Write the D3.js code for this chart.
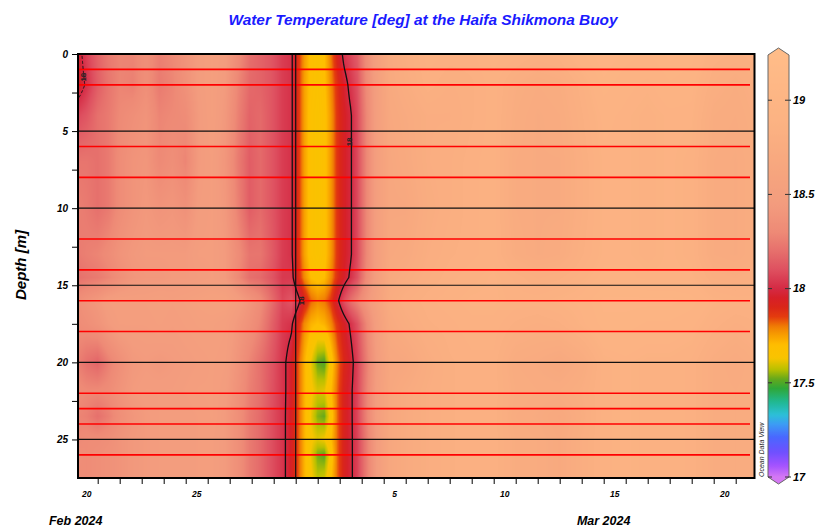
<!DOCTYPE html>
<html>
<head>
<meta charset="utf-8">
<script src="https://cdn.jsdelivr.net/npm/d3@7"></script>
<style>
body { margin: 0; background: #fff; }
text { font-family: "Liberation Sans", Arial, sans-serif; font-weight: bold; font-style: italic; }
</style>
</head>
<body>
<svg id="chart" width="819" height="529"></svg>
<script>
const DAY = 864e5;
const baseDate = Date.UTC(2024, 1, 20); // Feb 20 2024 00:00
const dayToDate = d => new Date(baseDate + d * DAY);

// grid columns, days after Feb 20
const dayOffsets = [0.1, 0.5, 1, 1.5, 2, 2.6, 3.2, 3.8, 4.4, 5, 5.6, 6.2, 6.8, 7.4, 7.9, 8.4, 8.9, 9.4,
  9.8, 10.1, 10.4, 10.7, 11, 11.3, 11.6, 11.9, 12.2, 12.5, 12.8, 13.2, 13.7,
  14.3, 15, 16, 17, 18, 19, 20, 21, 22, 23, 24, 25, 26, 27, 28, 29, 30, 30.85];
// grid rows, metres
const depths = [0, 2, 4, 7, 10, 13, 14.5, 16, 17.5, 20, 21.8, 23.5, 25, 26, 27.6];
// temperature, one row per depth
const temperature = [
  [17.95, 18.06, 18.16, 18.24, 18.28, 18.28, 18.34, 18.26, 18.3, 18.38, 18.46, 18.5, 18.46, 18.32, 18.2, 18.16, 18.12, 18.05,
   18.02, 17.88, 17.76, 17.68, 17.66, 17.7, 17.8, 17.92, 18.03, 18.08, 18.14, 18.32, 18.52,
   18.72, 18.78, 18.86, 18.84, 18.84, 18.88, 18.86, 18.82, 18.84, 18.92, 18.98, 18.94, 18.92, 18.96, 18.94, 18.84, 18.82, 18.84],
  [17.93, 18.02, 18.14, 18.22, 18.28, 18.26, 18.34, 18.24, 18.28, 18.36, 18.46, 18.5, 18.44, 18.28, 18.18, 18.16, 18.12, 18.05,
   18.02, 17.88, 17.75, 17.68, 17.66, 17.69, 17.78, 17.88, 17.96, 18.03, 18.1, 18.3, 18.5,
   18.7, 18.76, 18.84, 18.8, 18.82, 18.86, 18.78, 18.74, 18.76, 18.84, 18.94, 18.9, 18.88, 18.92, 18.9, 18.8, 18.76, 18.8],
  [18.08, 18.12, 18.2, 18.24, 18.3, 18.34, 18.38, 18.28, 18.3, 18.32, 18.44, 18.5, 18.42, 18.26, 18.16, 18.18, 18.12, 18.05,
   18.02, 17.88, 17.75, 17.67, 17.65, 17.68, 17.76, 17.87, 17.94, 17.99, 18.08, 18.28, 18.5,
   18.68, 18.72, 18.78, 18.78, 18.82, 18.86, 18.76, 18.72, 18.74, 18.82, 18.9, 18.88, 18.86, 18.88, 18.88, 18.76, 18.74, 18.78],
  [18.22, 18.22, 18.2, 18.24, 18.32, 18.38, 18.4, 18.3, 18.34, 18.28, 18.44, 18.48, 18.4, 18.24, 18.14, 18.18, 18.12, 18.05,
   18.02, 17.88, 17.75, 17.67, 17.65, 17.68, 17.76, 17.87, 17.94, 17.99, 18.08, 18.28, 18.5,
   18.66, 18.7, 18.78, 18.8, 18.84, 18.86, 18.74, 18.72, 18.72, 18.8, 18.88, 18.88, 18.86, 18.88, 18.86, 18.74, 18.72, 18.76],
  [18.26, 18.24, 18.2, 18.24, 18.32, 18.38, 18.42, 18.38, 18.4, 18.36, 18.46, 18.48, 18.42, 18.26, 18.14, 18.18, 18.12, 18.05,
   18.02, 17.88, 17.75, 17.67, 17.65, 17.68, 17.76, 17.87, 17.94, 17.99, 18.08, 18.28, 18.5,
   18.66, 18.66, 18.76, 18.8, 18.84, 18.86, 18.74, 18.72, 18.72, 18.8, 18.88, 18.88, 18.86, 18.88, 18.86, 18.74, 18.72, 18.76],
  [18.24, 18.26, 18.28, 18.32, 18.38, 18.42, 18.44, 18.44, 18.44, 18.44, 18.48, 18.48, 18.44, 18.32, 18.22, 18.22, 18.14, 18.05,
   18.02, 17.88, 17.75, 17.67, 17.65, 17.68, 17.76, 17.87, 17.94, 17.99, 18.08, 18.28, 18.5,
   18.68, 18.7, 18.78, 18.82, 18.84, 18.86, 18.76, 18.72, 18.74, 18.82, 18.88, 18.88, 18.86, 18.88, 18.86, 18.74, 18.72, 18.76],
  [18.2, 18.22, 18.24, 18.28, 18.34, 18.4, 18.42, 18.42, 18.44, 18.44, 18.46, 18.48, 18.44, 18.3, 18.2, 18.18, 18.12, 18.04,
   18.04, 17.9, 17.78, 17.7, 17.68, 17.7, 17.78, 17.88, 17.95, 18.02, 18.1, 18.3, 18.5,
   18.7, 18.74, 18.8, 18.84, 18.86, 18.88, 18.84, 18.8, 18.82, 18.86, 18.9, 18.9, 18.88, 18.88, 18.88, 18.8, 18.78, 18.8],
  [18.34, 18.38, 18.42, 18.48, 18.5, 18.5, 18.5, 18.52, 18.5, 18.52, 18.54, 18.56, 18.56, 18.48, 18.4, 18.32, 18.2, 18.08,
   18.12, 18.04, 17.92, 17.82, 17.78, 17.8, 17.86, 17.98, 18.1, 18.2, 18.28, 18.4, 18.55,
   18.74, 18.8, 18.84, 18.86, 18.88, 18.88, 18.86, 18.86, 18.88, 18.9, 18.96, 18.96, 18.96, 18.96, 18.94, 18.88, 18.86, 18.86],
  [18.32, 18.34, 18.38, 18.44, 18.48, 18.48, 18.48, 18.5, 18.48, 18.5, 18.52, 18.52, 18.5, 18.42, 18.36, 18.28, 18.16, 18.05,
   18.02, 17.9, 17.78, 17.72, 17.7, 17.72, 17.78, 17.87, 17.94, 18.02, 18.1, 18.28, 18.5,
   18.7, 18.76, 18.82, 18.84, 18.86, 18.86, 18.82, 18.8, 18.82, 18.88, 18.94, 18.94, 18.92, 18.92, 18.9, 18.84, 18.8, 18.82],
  [18.26, 18.2, 18.16, 18.26, 18.34, 18.42, 18.44, 18.42, 18.44, 18.46, 18.48, 18.5, 18.48, 18.38, 18.28, 18.2, 18.12, 18.03,
   17.95, 17.84, 17.72, 17.62, 17.52, 17.5, 17.66, 17.8, 17.9, 17.96, 18.06, 18.24, 18.46,
   18.64, 18.66, 18.76, 18.82, 18.84, 18.84, 18.74, 18.72, 18.68, 18.74, 18.86, 18.88, 18.86, 18.86, 18.84, 18.76, 18.72, 18.76],
  [18.32, 18.3, 18.3, 18.32, 18.38, 18.44, 18.46, 18.46, 18.46, 18.48, 18.5, 18.5, 18.46, 18.36, 18.26, 18.2, 18.11, 18.03,
   17.95, 17.84, 17.72, 17.64, 17.6, 17.61, 17.7, 17.82, 17.92, 17.98, 18.07, 18.26, 18.48,
   18.66, 18.72, 18.78, 18.82, 18.84, 18.84, 18.76, 18.74, 18.74, 18.78, 18.86, 18.88, 18.86, 18.86, 18.84, 18.76, 18.74, 18.76],
  [18.28, 18.26, 18.2, 18.26, 18.34, 18.4, 18.44, 18.46, 18.46, 18.46, 18.48, 18.5, 18.44, 18.34, 18.24, 18.18, 18.1, 18.03,
   17.94, 17.84, 17.72, 17.62, 17.54, 17.52, 17.66, 17.82, 17.92, 17.98, 18.07, 18.26, 18.48,
   18.66, 18.72, 18.78, 18.82, 18.84, 18.84, 18.74, 18.72, 18.68, 18.76, 18.86, 18.88, 18.86, 18.86, 18.84, 18.76, 18.74, 18.76],
  [18.3, 18.32, 18.32, 18.34, 18.38, 18.42, 18.44, 18.46, 18.46, 18.46, 18.48, 18.48, 18.44, 18.34, 18.24, 18.18, 18.1, 18.03,
   17.94, 17.84, 17.72, 17.64, 17.61, 17.63, 17.7, 17.82, 17.92, 17.98, 18.06, 18.24, 18.46,
   18.66, 18.72, 18.78, 18.82, 18.84, 18.84, 18.76, 18.74, 18.7, 18.78, 18.86, 18.88, 18.86, 18.86, 18.84, 18.76, 18.74, 18.76],
  [18.34, 18.32, 18.34, 18.36, 18.38, 18.42, 18.44, 18.46, 18.46, 18.46, 18.48, 18.48, 18.44, 18.34, 18.24, 18.18, 18.1, 18.03,
   17.94, 17.84, 17.72, 17.62, 17.53, 17.51, 17.66, 17.82, 17.92, 17.98, 18.06, 18.24, 18.46,
   18.66, 18.72, 18.78, 18.82, 18.84, 18.84, 18.76, 18.74, 18.7, 18.78, 18.86, 18.88, 18.86, 18.86, 18.84, 18.76, 18.74, 18.76],
  [18.32, 18.32, 18.34, 18.36, 18.38, 18.42, 18.44, 18.46, 18.46, 18.46, 18.48, 18.48, 18.44, 18.34, 18.24, 18.18, 18.1, 18.03,
   17.94, 17.84, 17.72, 17.64, 17.58, 17.6, 17.7, 17.82, 17.92, 17.98, 18.06, 18.24, 18.46,
   18.66, 18.72, 18.78, 18.82, 18.84, 18.84, 18.76, 18.74, 18.7, 18.78, 18.86, 18.88, 18.86, 18.86, 18.84, 18.76, 18.74, 18.76]
];

const sensorDepths = [1, 2, 6, 8, 12, 14, 16, 18, 22, 23, 24, 26];
const gridDepths = [5, 10, 15, 20, 25];
const depthTicks = [0, 5, 10, 15, 20, 25];
const depthMinor = [2.5, 7.5, 12.5, 17.5, 22.5];
const dayLabelDates = [dayToDate(0.5), dayToDate(5.5), dayToDate(14.5), dayToDate(19.5), dayToDate(24.5), dayToDate(29.5)];
const monthLabels = [{ text: "Feb 2024", date: dayToDate(0) }, { text: "Mar 2024", date: dayToDate(24) }];
const markerDate = dayToDate(10); // Mar 1
const contourLevel = 18;
const contourLabels = [
  { day: 0.35, depth: 1.5 },
  { day: 12.44, depth: 5.7 },
  { day: 10.27, depth: 16 }
];
const cbarTicks = [17, 17.5, 18, 18.5, 19];
const colorValues = [17.0, 17.06, 17.13, 17.21, 17.28, 17.33, 17.4, 17.47, 17.52, 17.57, 17.63, 17.7, 17.75, 17.8, 17.85, 17.9, 17.95, 18.0,
  18.1, 18.2, 18.3, 18.45, 18.6, 18.75, 18.9, 19.0, 19.24];
const colorList = ["#d478f4", "#a452ff", "#7050ff", "#4a66ff", "#3c9cf4", "#2cc0d8", "#20b890", "#2ea838", "#64a81c", "#b8c000", "#f8c400", "#ffbe00", "#f8a000", "#f07c04", "#e43c0e", "#da2618", "#d62028", "#d42a44",
  "#de5060", "#e6706c", "#ee8a76", "#f39c7e", "#f6a47e", "#f9ac80", "#fcb383", "#fdb584", "#ffbc88"];

const L = 78, R = 754.5, T = 54, B = 478;
const svg = d3.select("#chart");

const x = d3.scaleUtc().domain([dayToDate(0.1045), dayToDate(30.855)]).range([L, R]);
const y = d3.scaleLinear().domain([0, 27.5]).range([T, B]);
const color = d3.scaleLinear().domain(colorValues).range(colorList).clamp(true);

function sample(day, depth) {
  const nc = dayOffsets.length, nr = depths.length;
  const ci = Math.max(0, Math.min(nc - 2, d3.bisectRight(dayOffsets, day) - 1));
  const ri = Math.max(0, Math.min(nr - 2, d3.bisectRight(depths, depth) - 1));
  const tx = Math.max(0, Math.min(1, (day - dayOffsets[ci]) / (dayOffsets[ci + 1] - dayOffsets[ci])));
  const ty = Math.max(0, Math.min(1, (depth - depths[ri]) / (depths[ri + 1] - depths[ri])));
  const a = temperature[ri][ci], b = temperature[ri][ci + 1];
  const c = temperature[ri + 1][ci], d = temperature[ri + 1][ci + 1];
  return (a * (1 - tx) + b * tx) * (1 - ty) + (c * (1 - tx) + d * tx) * ty;
}
const pxDay = px => (x.invert(px) - baseDate) / DAY;

// field
const W = Math.round(R - L), H = B - T;
const canvas = document.createElement("canvas");
canvas.width = W; canvas.height = H;
const ctx = canvas.getContext("2d");
const img = ctx.createImageData(W, H);
for (let j = 0; j < H; j++) {
  const depth = y.invert(T + j + 0.5);
  for (let i = 0; i < W; i++) {
    const c = d3.rgb(color(sample(pxDay(L + i + 0.5), depth)));
    const k = (j * W + i) * 4;
    img.data[k] = c.r; img.data[k + 1] = c.g; img.data[k + 2] = c.b; img.data[k + 3] = 255;
  }
}
ctx.putImageData(img, 0, 0);
svg.append("image").attr("x", L).attr("y", T).attr("width", W).attr("height", H)
  .attr("preserveAspectRatio", "none").attr("href", canvas.toDataURL());

const defs = svg.append("defs");
defs.append("clipPath").attr("id", "clipSolid").append("rect").attr("x", 110).attr("y", T).attr("width", R - 110).attr("height", H);
defs.append("clipPath").attr("id", "clipDash").append("rect").attr("x", L).attr("y", T).attr("width", 32).attr("height", H);

// black depth lines, then red sensor lines
svg.append("g").selectAll("line").data(gridDepths).join("line")
  .attr("x1", L).attr("x2", R).attr("y1", d => y(d)).attr("y2", d => y(d))
  .attr("stroke", "#111").attr("stroke-width", 1.2);
svg.append("g").selectAll("line").data(sensorDepths).join("line")
  .attr("x1", L).attr("x2", 750).attr("y1", d => y(d)).attr("y2", d => y(d))
  .attr("stroke", "#ff0000").attr("stroke-width", 1.6);
svg.append("line")
  .attr("x1", x(markerDate)).attr("x2", x(markerDate))
  .attr("y1", T).attr("y2", B).attr("stroke", "#111").attr("stroke-width", 1.2);

// 18 degree contour
const pad = 4;
const nx = W + 2 * pad, ny = H + 2 * pad;
const grid = new Float64Array(nx * ny);
for (let j = 0; j < ny; j++) {
  const depth = Math.max(0, Math.min(27.5, y.invert(T - pad + j + 0.5)));
  for (let i = 0; i < nx; i++) {
    const px = Math.max(L, Math.min(R, L - pad + i + 0.5));
    grid[j * nx + i] = sample(pxDay(px), depth);
  }
}
const iso = d3.contours().size([nx, ny]).thresholds([contourLevel])(grid)[0];
const proj = d3.geoTransform({ point(px, py) { this.stream.point(L - pad + px, T - pad + py); } });
const isoPath = d3.geoPath(proj)(iso);
svg.append("path").attr("d", isoPath).attr("clip-path", "url(#clipSolid)")
  .attr("fill", "none").attr("stroke", "#111").attr("stroke-width", 1.3);
svg.append("path").attr("d", isoPath).attr("clip-path", "url(#clipDash)")
  .attr("fill", "none").attr("stroke", "#111").attr("stroke-width", 1).attr("stroke-dasharray", "3,2");

svg.append("g").selectAll("text").data(contourLabels).join("text")
  .attr("transform", d => `translate(${x(dayToDate(d.day))},${y(d.depth)}) rotate(-90)`)
  .attr("text-anchor", "middle").attr("dy", "0.35em")
  .style("font-size", "8px").style("font-style", "normal").attr("fill", "#222")
  .text(contourLevel);

// frame
svg.append("rect").attr("x", L).attr("y", T).attr("width", R - L).attr("height", H)
  .attr("fill", "none").attr("stroke", "#000").attr("stroke-width", 2);

// depth axis
const yAxis = svg.append("g").attr("transform", `translate(${L - 1},0)`)
  .call(d3.axisLeft(y).tickValues(depthTicks).tickSize(5).tickPadding(4).tickFormat(d3.format("d")));
yAxis.select(".domain").remove();
yAxis.selectAll("text").style("font-size", "10px");
svg.append("g").attr("transform", `translate(${L - 1},0)`)
  .call(d3.axisLeft(y).tickValues(depthMinor).tickSize(5).tickFormat(""))
  .select(".domain").remove();

// time axis
const xAxis = svg.append("g").attr("transform", `translate(0,${B + 1})`)
  .call(d3.axisBottom(x).ticks(d3.utcDay.every(1)).tickSize(5).tickFormat(""));
xAxis.select(".domain").remove();
svg.append("g").selectAll("text").data(dayLabelDates).join("text")
  .attr("x", d => x(d)).attr("y", 497).attr("text-anchor", "middle")
  .style("font-size", "8.5px").text(d => d.getUTCDate());
svg.append("g").selectAll("text").data(monthLabels).join("text")
  .attr("x", d => x(d.date)).attr("y", 525).attr("text-anchor", "middle")
  .style("font-size", "12.5px").text(d => d.text);

// titles
svg.append("text").attr("x", 423).attr("y", 25).attr("text-anchor", "middle")
  .style("font-size", "15.4px").attr("fill", "#1a1aff")
  .text("Water Temperature [deg] at the Haifa Shikmona Buoy");
svg.append("text").attr("transform", "translate(26,265) rotate(-90)").attr("text-anchor", "middle")
  .style("font-size", "15px").text("Depth [m]");

// colour bar
const cb = d3.scaleLinear().domain([17, 19.24]).range([477, 55]);
const grad = defs.append("linearGradient").attr("id", "cbar")
  .attr("gradientUnits", "userSpaceOnUse").attr("x1", 0).attr("x2", 0).attr("y1", cb(17)).attr("y2", cb(19.24));
grad.selectAll("stop").data(d3.range(0, 1.0001, 0.005)).join("stop")
  .attr("offset", d => d).attr("stop-color", d => color(17 + d * 2.24));
const cbx0 = 768, cbx1 = 789, cbm = (cbx0 + cbx1) / 2;
svg.append("path").attr("d", `M${cbx0},${cb(19.24)}L${cbm},48L${cbx1},${cb(19.24)}Z`).attr("fill", color(19.24));
svg.append("path").attr("d", `M${cbx0},${cb(17)}L${cbm},484L${cbx1},${cb(17)}Z`).attr("fill", color(17));
svg.append("rect").attr("x", cbx0).attr("y", cb(19.24)).attr("width", cbx1 - cbx0).attr("height", cb(17) - cb(19.24))
  .attr("fill", "url(#cbar)");
svg.append("path")
  .attr("d", `M${cbx0},${cb(17)}L${cbx0},${cb(19.24)}L${cbm},48L${cbx1},${cb(19.24)}L${cbx1},${cb(17)}L${cbm},484Z`)
  .attr("fill", "none").attr("stroke", "#666").attr("stroke-width", 1);
const cbTick = svg.append("g").selectAll("g").data(cbarTicks).join("g")
  .attr("transform", d => `translate(0,${cb(d)})`);
cbTick.append("line").attr("x1", cbx0).attr("x2", cbx0 + 4).attr("stroke", "#333");
cbTick.append("line").attr("x1", cbx1 - 4).attr("x2", cbx1 + 2).attr("stroke", "#333");
cbTick.append("text").attr("x", 793).attr("dy", "0.35em").style("font-size", "11px").text(d => d);

svg.append("text").attr("transform", "translate(764,477) rotate(-90)")
  .style("font-size", "7px").style("font-weight", "normal").attr("fill", "#222")
  .text("Ocean Data View");
</script>
</body>
</html>
